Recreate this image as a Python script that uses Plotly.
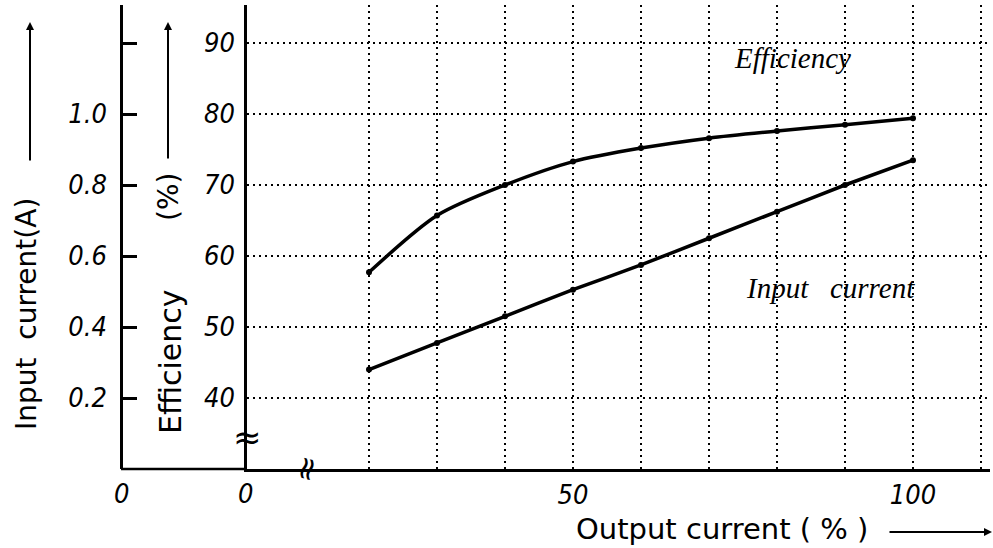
import plotly.graph_objects as go

# ---- data ----
output_current = [20, 30, 40, 50, 60, 70, 80, 90, 100]          # %
efficiency = [57.7, 65.7, 70.0, 73.3, 75.2, 76.6, 77.6, 78.5, 79.4]  # %
input_current = [0.28, 0.355, 0.43, 0.505, 0.575, 0.65, 0.725, 0.80, 0.87]  # A

x_grid = [20, 30, 40, 50, 60, 70, 80, 90, 100, 110]
x_labels = ["", "", "", "50", "", "", "", "", "100", ""]
eff_ticks = [40, 50, 60, 70, 80, 90]
eff_labels = ["40", "50", "60", "70", "80", "90"]
cur_ticks = [0.2, 0.4, 0.6, 0.8, 1.0, 1.2]
cur_labels = ["0.2", "0.4", "0.6", "0.8", "1.0", ""]

W, H = 993, 548
L, R, T, B = 0, 3, 5, 79           # plot area: x 0..990, y 5..469
PW, PH = W - L - R, H - T - B
X0_PX = 247                          # efficiency axis position
XC_PX = 121                          # input current axis position


def px(x):
    return (x - L) / PW


def py(y):
    return (H - B - y) / PH


HAND = dict(family="Liberation Sans Narrow, DejaVu Sans Condensed, sans-serif",
            style="italic", color="black", size=27)
SANS = dict(family="DejaVu Sans, sans-serif", color="black", size=28)

fig = go.Figure()
fig.add_trace(go.Scatter(
    x=output_current, y=efficiency, mode="lines+markers",
    line=dict(color="black", width=3.5, shape="spline", smoothing=0.8),
    marker=dict(color="black", size=6), showlegend=False))
fig.add_trace(go.Scatter(
    x=output_current, y=input_current, yaxis="y2", mode="lines+markers",
    line=dict(color="black", width=3.5, shape="spline", smoothing=0.5),
    marker=dict(color="black", size=6), showlegend=False))

xr0 = 50 - (573 - X0_PX) / 6.8
xr1 = xr0 + (990 - X0_PX) / 6.8
eff_per_px = 10 / 71.0
eff_range = [30, 30 + PH * eff_per_px]
cur_range = [0, PH * 0.2 / 71.0]

fig.update_layout(
    width=W, height=H, margin=dict(l=L, r=R, t=T, b=B),
    paper_bgcolor="white", plot_bgcolor="white",
    xaxis=dict(domain=[px(X0_PX), 1], range=[xr0, xr1],
               tickmode="array", tickvals=x_grid, ticktext=x_labels,
               showgrid=True, gridcolor="black", gridwidth=1.6, griddash="2px,4px",
               showline=True, linecolor="black", linewidth=2.5, zeroline=False,
               ticks="", ticklabelstandoff=0, tickfont=HAND),
    yaxis=dict(range=eff_range, tickmode="array", tickvals=eff_ticks, ticktext=eff_labels,
               showgrid=True, gridcolor="black", gridwidth=1.6, griddash="2px,4px",
               showline=True, linecolor="black", linewidth=2.5, zeroline=False,
               ticks="", ticklabelstandoff=4, tickfont=HAND),
    yaxis2=dict(range=cur_range, overlaying="y", anchor="free", position=px(XC_PX),
                side="left", tickmode="array", tickvals=cur_ticks, ticktext=cur_labels,
                showgrid=False, zeroline=False, showline=True, linecolor="black",
                linewidth=2.5, ticks="inside", ticklen=14, tickwidth=2.5,
                tickcolor="black", ticklabelstandoff=8, tickfont=HAND),
)

# bottom line between the two left axes
fig.add_shape(type="line", xref="paper", yref="paper",
              x0=px(XC_PX), x1=px(X0_PX), y0=0, y1=0,
              line=dict(color="black", width=2.5))


def note(x, y, text, font, angle=0):
    fig.add_annotation(x=px(x), y=py(y), xref="paper", yref="paper", text=text,
                       textangle=angle, showarrow=False, font=font,
                       xanchor="center", yanchor="middle")


# zeros under the two axes
note(XC_PX, 493, "0", HAND)
note(X0_PX - 2, 493, "0", HAND)

# axis break marks
note(X0_PX, 437, "≈", dict(family="DejaVu Sans", size=34, color="black"))
note(306, 469, "≈", dict(family="DejaVu Sans", size=32, color="black"), angle=-75)

# axis titles
note(26, 314, "Input  current(A)", SANS, -90)
note(170, 362, "Efficiency", dict(SANS, size=30), -90)
note(168, 197, "(%)", SANS, -90)
note(722, 529, "Output current ( % )", dict(SANS, size=29))

# arrows (head position, tail offset in pixels)
for (hx, hy, tx, ty) in [(30, 22, 30, 162), (168, 22, 168, 160), (992, 532, 888, 532)]:
    fig.add_annotation(x=px(hx), y=py(hy), xref="paper", yref="paper",
                       ax=tx - hx, ay=ty - hy, axref="pixel", ayref="pixel",
                       text="", showarrow=True, arrowhead=2, arrowsize=0.8,
                       arrowwidth=2, arrowcolor="black")

# curve labels
CURVE_FONT = dict(family="Liberation Serif, serif", style="italic", size=29, color="black")
note(792, 58, "Efficiency", CURVE_FONT)
note(830, 288, "Input   current", CURVE_FONT)

fig.write_html("out.html")
